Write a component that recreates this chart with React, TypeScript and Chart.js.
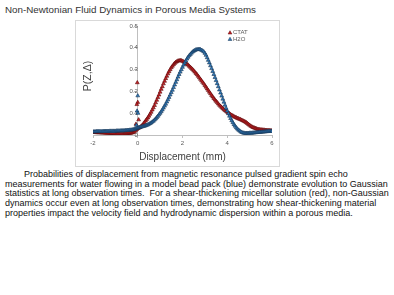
import React, { useEffect, useRef } from "react";
import { Chart, registerables } from "chart.js";

Chart.register(...registerables);

const titleText = "Non-Newtonian Fluid Dynamics in Porous Media Systems";
const captionLines = [
  "Probabilities of displacement from magnetic resonance pulsed gradient spin echo",
  "measurements for water flowing in a model bead pack (blue) demonstrate evolution to Gaussian",
  "statistics at long observation times.  For a shear-thickening micellar solution (red), non-Gaussian",
  "dynamics occur even at long observation times, demonstrating how shear-thickening material",
  "properties impact the velocity field and hydrodynamic dispersion within a porous media.",
];

const seriesNames = ["CTAT", "H2O"];
const xTicks = [-2, 0, 2, 4, 6];
const yTicks = [0, 0.1, 0.2, 0.3, 0.4, 0.5];

const displacement = [
  -2.0, -1.95, -1.9, -1.85, -1.8, -1.75, -1.7, -1.65, -1.6, -1.55,
  -1.5, -1.45, -1.4, -1.35, -1.3, -1.25, -1.2, -1.15, -1.1, -1.05,
  -1.0, -0.95, -0.9, -0.85, -0.8, -0.75, -0.7, -0.65, -0.6, -0.55,
  -0.5, -0.45, -0.4, -0.35, -0.3, -0.25, -0.2, -0.15, -0.1, -0.05,
  0.0, 0.05, 0.1, 0.15, 0.2, 0.25, 0.3, 0.35, 0.4, 0.45,
  0.5, 0.55, 0.6, 0.65, 0.7, 0.75, 0.8, 0.85, 0.9, 0.95,
  1.0, 1.05, 1.1, 1.15, 1.2, 1.25, 1.3, 1.35, 1.4, 1.45,
  1.5, 1.55, 1.6, 1.65, 1.7, 1.75, 1.8, 1.85, 1.9, 1.95,
  2.0, 2.05, 2.1, 2.15, 2.2, 2.25, 2.3, 2.35, 2.4, 2.45,
  2.5, 2.55, 2.6, 2.65, 2.7, 2.75, 2.8, 2.85, 2.9, 2.95,
  3.0, 3.05, 3.1, 3.15, 3.2, 3.25, 3.3, 3.35, 3.4, 3.45,
  3.5, 3.55, 3.6, 3.65, 3.7, 3.75, 3.8, 3.85, 3.9, 3.95,
  4.0, 4.05, 4.1, 4.15, 4.2, 4.25, 4.3, 4.35, 4.4, 4.45,
  4.5, 4.55, 4.6, 4.65, 4.7, 4.75, 4.8, 4.85, 4.9, 4.95,
  5.0, 5.05, 5.1, 5.15, 5.2, 5.25, 5.3, 5.35, 5.4, 5.45,
  5.5, 5.55, 5.6, 5.65, 5.7, 5.75, 5.8, 5.85, 5.9, 5.95,
  6.0,
];

const ctatValues = [
  0.012, 0.012, 0.012, 0.011, 0.011, 0.011, 0.011, 0.010, 0.010, 0.010,
  0.010, 0.009, 0.009, 0.009, 0.009, 0.008, 0.008, 0.007, 0.007, 0.006,
  0.006, 0.005, 0.005, 0.004, 0.004, 0.004, 0.004, 0.004, 0.004, 0.005,
  0.005, 0.006, 0.007, 0.008, 0.009, 0.010, 0.012, 0.015, 0.020, 0.025,
  0.030, 0.032, 0.035, 0.040, 0.045, 0.051, 0.058, 0.065, 0.072, 0.079,
  0.087, 0.096, 0.105, 0.115, 0.125, 0.136, 0.148, 0.160, 0.172, 0.184,
  0.197, 0.210, 0.222, 0.235, 0.247, 0.259, 0.270, 0.281, 0.291, 0.300,
  0.309, 0.316, 0.323, 0.329, 0.334, 0.337, 0.340, 0.341, 0.342, 0.341,
  0.339, 0.336, 0.333, 0.329, 0.325, 0.321, 0.316, 0.311, 0.306, 0.301,
  0.295, 0.289, 0.283, 0.277, 0.270, 0.263, 0.256, 0.249, 0.242, 0.235,
  0.227, 0.220, 0.212, 0.205, 0.197, 0.190, 0.182, 0.175, 0.168, 0.161,
  0.155, 0.149, 0.143, 0.137, 0.132, 0.127, 0.122, 0.117, 0.113, 0.109,
  0.105, 0.101, 0.098, 0.094, 0.091, 0.088, 0.085, 0.082, 0.080, 0.077,
  0.075, 0.073, 0.071, 0.068, 0.066, 0.063, 0.060, 0.057, 0.053, 0.049,
  0.045, 0.041, 0.038, 0.035, 0.033, 0.031, 0.029, 0.027, 0.026, 0.025,
  0.024, 0.024, 0.023, 0.023, 0.022, 0.022, 0.021, 0.021, 0.021, 0.020,
  0.020,
];

const h2oValues = [
  0.015, 0.015, 0.015, 0.016, 0.016, 0.016, 0.016, 0.016, 0.016, 0.017,
  0.017, 0.017, 0.017, 0.017, 0.017, 0.018, 0.018, 0.018, 0.018, 0.018,
  0.018, 0.019, 0.019, 0.019, 0.019, 0.020, 0.020, 0.020, 0.020, 0.021,
  0.021, 0.022, 0.022, 0.023, 0.023, 0.024, 0.025, 0.026, 0.028, 0.030,
  0.032, 0.034, 0.035, 0.037, 0.038, 0.040, 0.041, 0.043, 0.045, 0.047,
  0.050, 0.053, 0.056, 0.060, 0.064, 0.069, 0.074, 0.080, 0.086, 0.093,
  0.100, 0.107, 0.115, 0.124, 0.133, 0.142, 0.152, 0.162, 0.173, 0.184,
  0.195, 0.206, 0.218, 0.230, 0.242, 0.254, 0.266, 0.278, 0.289, 0.300,
  0.311, 0.321, 0.331, 0.340, 0.349, 0.357, 0.364, 0.370, 0.376, 0.381,
  0.385, 0.388, 0.391, 0.392, 0.393, 0.393, 0.392, 0.389, 0.386, 0.382,
  0.375, 0.366, 0.355, 0.343, 0.331, 0.318, 0.305, 0.292, 0.278, 0.264,
  0.250, 0.236, 0.222, 0.207, 0.193, 0.179, 0.165, 0.151, 0.137, 0.123,
  0.110, 0.098, 0.087, 0.076, 0.066, 0.057, 0.048, 0.041, 0.034, 0.028,
  0.023, 0.019, 0.015, 0.012, 0.010, 0.009, 0.008, 0.008, 0.008, 0.008,
  0.009, 0.009, 0.009, 0.010, 0.010, 0.011, 0.011, 0.012, 0.012, 0.013,
  0.013, 0.014, 0.014, 0.015, 0.015, 0.016, 0.016, 0.017, 0.017, 0.018,
  0.018,
];

const ctatSpikeX = [-0.02, 0.0, -0.04, 0.04, -0.08];
const ctatSpikeY = [0.24, 0.15, 0.14, 0.07, 0.05];
const h2oSpikeX = [0.0, -0.03, 0.01, -0.06];
const h2oSpikeY = [0.18, 0.11, 0.10, 0.045];

const RED_FILL = "#c41f24";
const RED_EDGE = "#5e0b0b";
const BLUE_FILL = "#2e78b8";
const BLUE_EDGE = "#183656";
const FONT = "'Liberation Sans', Arial, sans-serif";

function toPoints(xs: number[], ys: number[], sx: number[], sy: number[]) {
  const pts = xs.map((x, i) => ({ x, y: ys[i] }));
  sx.forEach((x, i) => pts.push({ x, y: sy[i] }));
  return pts;
}

const overlayPlugin = {
  id: "overlay",
  afterDraw(chart: any) {
    const ctx = chart.ctx;
    ctx.save();
    ctx.fillStyle = "#404040";
    ctx.font = "10.5px " + FONT;
    ctx.textAlign = "center";
    ctx.textBaseline = "middle";
    ctx.translate(12, 55);
    ctx.rotate(-Math.PI / 2);
    ctx.fillText("P(Z,\u0394)", 0, 0);
    ctx.restore();

    ctx.save();
    const items = [
      { name: seriesNames[0], fill: RED_FILL, edge: RED_EDGE, y: 11.5 },
      { name: seriesNames[1], fill: BLUE_FILL, edge: BLUE_EDGE, y: 18 },
    ];
    ctx.font = "6px " + FONT;
    ctx.textBaseline = "middle";
    ctx.textAlign = "left";
    items.forEach((it) => {
      const cx = 154;
      ctx.beginPath();
      ctx.moveTo(cx, it.y - 1.8);
      ctx.lineTo(cx + 1.9, it.y + 1.5);
      ctx.lineTo(cx - 1.9, it.y + 1.5);
      ctx.closePath();
      ctx.fillStyle = it.fill;
      ctx.fill();
      ctx.strokeStyle = it.edge;
      ctx.lineWidth = 0.5;
      ctx.stroke();
      ctx.fillStyle = "#595959";
      ctx.fillText(it.name, 157, it.y);
    });
    ctx.restore();
  },
};

export default function App() {
  const canvasRef = useRef<HTMLCanvasElement | null>(null);

  useEffect(() => {
    if (!canvasRef.current) return;
    const chart = new Chart(canvasRef.current, {
      type: "scatter",
      data: {
        datasets: [
          {
            label: seriesNames[1],
            data: toPoints(displacement, h2oValues, h2oSpikeX, h2oSpikeY),
            pointStyle: "triangle",
            pointRadius: 2.2,
            backgroundColor: BLUE_FILL,
            borderColor: BLUE_EDGE,
            borderWidth: 0.6,
            showLine: false,
            order: 0,
          },
          {
            label: seriesNames[0],
            data: toPoints(displacement, ctatValues, ctatSpikeX, ctatSpikeY),
            pointStyle: "triangle",
            pointRadius: 2.2,
            backgroundColor: RED_FILL,
            borderColor: RED_EDGE,
            borderWidth: 0.6,
            showLine: false,
            order: 1,
          },
        ],
      },
      options: {
        animation: false,
        responsive: false,
        maintainAspectRatio: false,
        devicePixelRatio: 1,
        layout: { padding: { left: 17, right: 7, top: 5, bottom: 0 } },
        plugins: {
          legend: { display: false },
          tooltip: { enabled: false },
          title: { display: false },
        },
        scales: {
          x: {
            type: "linear",
            position: "bottom",
            min: -2,
            max: 6,
            afterBuildTicks: (scale: any) => {
              scale.ticks = xTicks.map((v) => ({ value: v }));
            },
            afterFit: (scale: any) => {
              scale.height = 31;
            },
            ticks: {
              font: { size: 6, family: FONT },
              color: "#595959",
              padding: 2,
              maxRotation: 0,
            },
            grid: {
              display: true,
              drawOnChartArea: false,
              drawTicks: true,
              tickLength: 3,
              color: "#bfbfbf",
            },
            border: { display: true, color: "#bfbfbf" },
            title: {
              display: true,
              text: "Displacement (mm)",
              color: "#404040",
              font: { size: 10, family: FONT },
              padding: { top: 0, bottom: 3 },
            },
          },
          y: {
            type: "linear",
            position: { x: 0 } as any,
            min: 0,
            max: 0.5,
            afterBuildTicks: (scale: any) => {
              scale.ticks = yTicks.map((v) => ({ value: v }));
            },
            ticks: {
              font: { size: 6, family: FONT },
              color: "#595959",
              padding: 1,
              callback: (v: any) => String(Number(v)),
            },
            grid: {
              display: true,
              drawOnChartArea: false,
              drawTicks: true,
              tickLength: 3,
              color: "#bfbfbf",
            },
            border: { display: true, color: "#bfbfbf" },
          },
        },
      },
      plugins: [overlayPlugin],
    } as any);
    return () => chart.destroy();
  }, []);

  return (
    <div
      style={{
        position: "absolute",
        left: 0,
        top: 0,
        width: 394,
        height: 295,
        background: "#ffffff",
        overflow: "hidden",
      }}
    >
      <div
        style={{
          position: "absolute",
          left: 5,
          top: 4,
          fontFamily: FONT,
          fontSize: 9.8,
          color: "#333333",
          whiteSpace: "nowrap",
          lineHeight: "12px",
        }}
      >
        {titleText}
      </div>
      <div
        style={{
          position: "absolute",
          left: 75,
          top: 20,
          width: 203,
          height: 145,
          border: "1px solid #d9d9d9",
        }}
      >
        <canvas ref={canvasRef} width={203} height={145} style={{ display: "block", width: 203, height: 145 }} />
      </div>
      <div
        style={{
          position: "absolute",
          left: 5,
          top: 170,
          fontFamily: FONT,
          fontSize: 9,
          lineHeight: "9.7px",
          color: "#111111",
          whiteSpace: "pre",
        }}
      >
        {captionLines.map((line, i) => (
          <div key={i} style={{ paddingLeft: i === 0 ? 19 : 0 }}>
            {line}
          </div>
        ))}
      </div>
    </div>
  );
}
